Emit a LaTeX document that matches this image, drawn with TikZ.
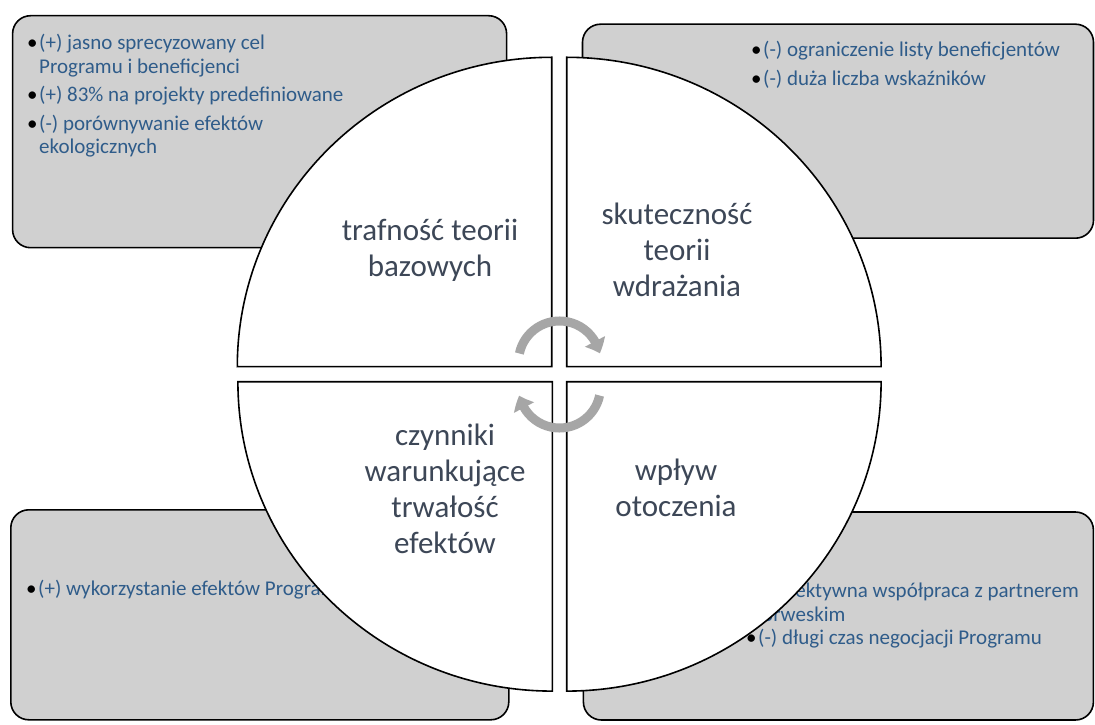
\documentclass[tikz,border=0pt]{standalone}
\usepackage{fontspec}
\setmainfont{Carlito}
\usetikzlibrary{arrows.meta,bending}
\definecolor{boxgray}{HTML}{D0D0D0}
\definecolor{listblue}{HTML}{2F5C8A}
\definecolor{titlegray}{HTML}{3D4757}
\definecolor{arrowgray}{HTML}{A6A6A6}
\tikzset{>={Triangle[width=22pt,length=13pt,bend]}}
\tikzstyle{infobox} = [draw, line width=1.6pt, fill=boxgray, rounded corners=18pt]
\tikzstyle{quarter} = [draw, line width=1.6pt, fill=white]
\tikzstyle{listtext} = [anchor=north west, inner sep=0pt, text=listblue,
    font=\fontsize{21}{23.5}\selectfont, align=left]
\tikzstyle{title} = [text=titlegray, font=\fontsize{31}{36}\selectfont, align=center]
\tikzstyle{cyclearrow} = [draw=arrowgray, line width=9pt, ->]
\newcommand{\itm}{\makebox[12pt][l]{\textcolor{black}{•}}}

\begin{document}
\begin{tikzpicture}[x=1pt, y=1pt]
    \useasboundingbox (0,0) rectangle (1095,724);
    % We start by placing the four grey boxes
    \node [infobox, minimum width=494pt, minimum height=232pt] (boxtl) at (259.6,592.3) {};
    \node [infobox, minimum width=511pt, minimum height=214pt] (boxtr) at (838,592.8) {};
    \node [infobox, minimum width=498pt, minimum height=210pt] (boxbl) at (259.8,109.2) {};
    \node [infobox, minimum width=510pt, minimum height=208pt] (boxbr) at (838.4,108) {};

    % lists of factors, partly hidden by the circle
    \node [listtext] (listtl) at (27,690) {\itm(+) jasno sprecyzowany cel\\
        \hspace{12pt}Programu i beneficjenci\\[5pt]
        \itm(+) 83\% na projekty predefiniowane\\[5pt]
        \itm(-) porównywanie efektów\\
        \hspace{12pt}ekologicznych};
    \node [listtext] (listtr) at (751,683) {\itm(-) ograniczenie listy beneficjentów\\[5pt]
        \itm(-) duża liczba wskaźników};
    \node [listtext] (listbl) at (26,144) {\itm(+) wykorzystanie efektów Programu};
    \node [listtext] (listbr) at (746,142)
        {\hspace{-7pt}\itm(+) efektywna współpraca z partnerem\\
        \hspace{5pt}norweskim\\
        \itm(-) długi czas negocjacji Programu};

    % the circle, cut in four quarters
    \draw [quarter] (551.7,357.3) -- ++(-314.4,0) arc (180:90:314.4 and 309.4) -- cycle;
    \draw [quarter] (566.7,357.3) -- ++(0,309.4) arc (90:0:314.4 and 309.4) -- cycle;
    \draw [quarter] (552.3,342.3) -- ++(-314.4,0) arc (180:270:314.4 and 309.4) -- cycle;
    \draw [quarter] (566.7,342.3) -- ++(314.4,0) arc (0:-90:314.4 and 309.4) -- cycle;

    \node [title] (relevance) at (430,474) {trafność teorii\\bazowych};
    \node [title] (efficiency) at (677,474) {skuteczność\\teorii\\wdrażania};
    \node [title] (durability) at (445,235) {czynniki\\warunkujące\\trwałość\\efektów};
    \node [title] (context) at (676,236) {wpływ\\otoczenia};

    % circular arrows in the middle
    \coordinate (uppermid) at (559.5,362);
    \coordinate (lowermid) at (559.5,337);
    \draw [cyclearrow] (uppermid) ++(168:41) arc (168:12:41);
    \draw [cyclearrow] (lowermid) ++(-12:41) arc (-12:-168:41);
\end{tikzpicture}
\end{document}
